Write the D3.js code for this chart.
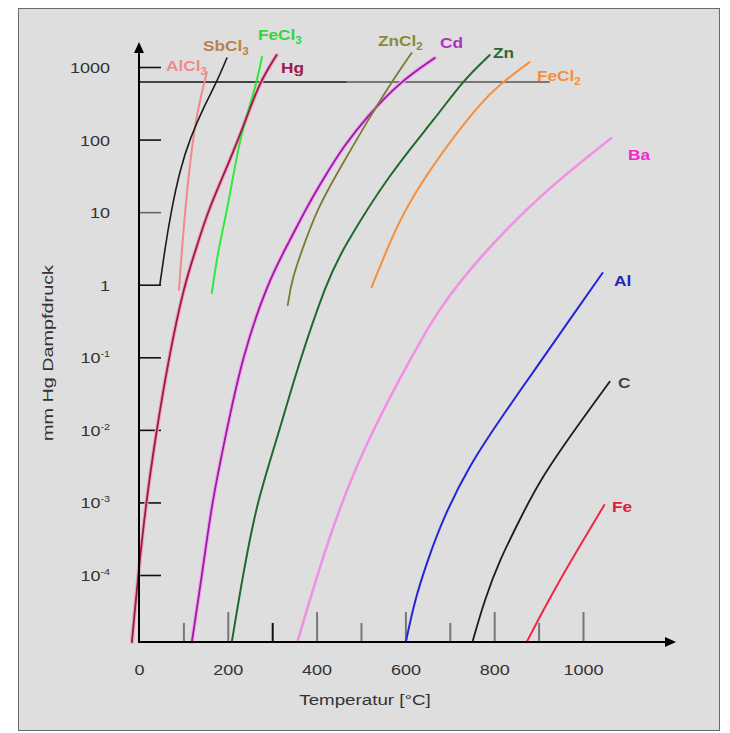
<!DOCTYPE html>
<html>
<head>
<meta charset="utf-8">
<script src="https://cdn.jsdelivr.net/npm/d3@7"></script>
<style>
  body { margin: 0; background: #ffffff; }
  text { font-family: "Liberation Sans", Arial, sans-serif; }
</style>
</head>
<body>
<script>
// vapour pressure curves, [temperature in °C, pressure in mm Hg]
var alCl3 = [[90, 0.85], [103, 10], [121, 105], [137, 350], [153, 850]];
var sbCl3 = [[47, 1.0], [58, 3], [72, 10], [92, 38], [115, 105], [148, 300], [175, 620], [198, 1330]];
var feCl3 = [[164, 0.77], [178, 3], [198, 10], [227, 105], [250, 300], [265, 620], [277, 1370]];
var hg = [[-16, 1.19e-5], [-2, 1e-4], [16, 1e-3], [36, 7.2e-3], [67, 0.1], [103, 1.06], [128, 3.0],
          [153, 9.7], [205, 52], [243, 205], [272, 620], [310, 1460]];
var cd = [[119, 1.19e-5], [142, 1e-4], [164, 9.8e-4], [193, 7.2e-3], [232, 0.1], [290, 1.09], [340, 4.1],
          [378, 11.8], [423, 34.6], [463, 84], [513, 205], [587, 621], [666, 1330]];
var znCl2 = [[335, 0.52], [344, 1.16], [367, 3.0], [403, 11.8], [457, 44.7], [520, 205], [569, 621], [614, 1560]];
var zn = [[209, 1.19e-5], [234, 1e-4], [265, 9.8e-4], [310, 7.2e-3], [362, 0.092], [423, 1.09], [457, 3.0],
          [565, 34.6], [670, 205], [727, 621], [790, 1460]];
var feCl2 = [[524, 0.93], [558, 3.0], [587, 7.8], [648, 34.6], [767, 319], [819, 621], [880, 1170]];
var ba = [[358, 1.27e-5], [418, 2.2e-4], [475, 2.0e-3], [538, 1.37e-2], [610, 0.092], [677, 0.49],
          [767, 2.4], [902, 17.2], [1064, 105]];
var al = [[601, 1.19e-5], [621, 4.5e-5], [650, 1.6e-4], [688, 6.7e-4], [745, 3.3e-3], [812, 1.37e-2],
          [902, 0.083], [970, 0.33], [1044, 1.45]];
var carbon = [[751, 1.19e-5], [778, 4.5e-5], [812, 1.6e-4], [857, 5.7e-4], [902, 2.0e-3], [981, 1.0e-2], [1060, 0.046]];
var fe = [[873, 1.19e-5], [913, 3.5e-5], [958, 1.1e-4], [1003, 3.2e-4], [1048, 9.2e-4]];

// axis ticks
var xTicks = [0, 100, 200, 300, 400, 500, 600, 700, 800, 900, 1000];
var yTicks = [1e-4, 1e-3, 1e-2, 1e-1, 1, 10, 100, 1000];
var yTickLabels = [["10", "-4"], ["10", "-3"], ["10", "-2"], ["10", "-1"], ["1", ""], ["10", ""], ["100", ""], ["1000", ""]];

// the boiling line (ambient pressure) and where it turns grey
var ambientP = 620;
var ambientSplitT = 468, ambientEndT = 925;

var w = 730, h = 733;
var sx = 1.2; // the source text is stretched sideways

var svg = d3.select("body").append("svg")
    .attr("width", w)
    .attr("height", h);

// panel
svg.append("rect")
    .attr("x", 18.5).attr("y", 8.5)
    .attr("width", 701).attr("height", 722)
    .attr("fill", "#dedede")
    .attr("stroke", "#6a6a6a")
    .attr("stroke-width", 1);

var x = d3.scaleLinear().domain([0, 1000]).range([139, 583]);
var y = d3.scaleLog().domain([1e-4, 1000]).range([575, 67]);
var axisY = 642;   // x axis sits a bit under 10^-4
var yTop = 42;     // tip of the y arrow

// x axis ticks (upward, long for every 200)
var xAxis = d3.axisBottom(x)
    .tickValues(xTicks)
    .tickSize(0)
    .tickPadding(0)
    .tickFormat(function(d){ return d % 200 === 0 ? d : ""; });

var gx = svg.append("g")
    .attr("transform", "translate(0," + axisY + ")")
    .call(xAxis);
gx.select(".domain").remove();
gx.selectAll(".tick line")
    .attr("y2", function(d){ return d === 0 ? 0 : (d % 200 === 0 ? -30 : -19); })
    .attr("stroke", function(d){ return d === 300 ? "#111" : "#777"; })
    .attr("stroke-width", 2);
gx.selectAll(".tick text")
    .attr("y", 0)
    .attr("dy", 0)
    .attr("transform", "translate(0,33) scale(" + sx + ",1)")
    .attr("fill", "#333")
    .style("font-size", "15px");

// y axis ticks (inward)
var yAxis = d3.axisLeft(y)
    .tickValues(yTicks)
    .tickSize(-22)
    .tickPadding(0)
    .tickFormat("");

var gy = svg.append("g")
    .attr("transform", "translate(139,0)")
    .call(yAxis);
gy.select(".domain").remove();
gy.selectAll(".tick line")
    .attr("stroke", function(d){ return d === 10 ? "#666" : "#111"; })
    .attr("stroke-width", 1.6);

gy.selectAll(".tick").each(function(d, i){
    var lab = yTickLabels[i];
    var t = d3.select(this).select("text")
        .attr("x", 0).attr("dy", 0)
        .attr("transform", "translate(-29,5.5) scale(" + sx + ",1)")
        .attr("text-anchor", "end")
        .attr("fill", "#333")
        .style("font-size", "15px")
        .text(lab[0]);
    if (lab[1]) {
        t.append("tspan")
            .attr("dy", -6)
            .style("font-size", "9px")
            .text(lab[1]);
    }
});

// ambient pressure line
svg.append("line")
    .attr("x1", x(0)).attr("x2", x(ambientSplitT))
    .attr("y1", y(ambientP)).attr("y2", y(ambientP))
    .attr("stroke", "#111").attr("stroke-width", 1.6);
svg.append("line")
    .attr("x1", x(ambientSplitT)).attr("x2", x(ambientEndT))
    .attr("y1", y(ambientP)).attr("y2", y(ambientP))
    .attr("stroke", "#555").attr("stroke-width", 1.4);

// curves - basis smoothing, the read-off points are a little noisy
var line = d3.line()
    .x(function(d){ return x(d[0]); })
    .y(function(d){ return y(d[1]); })
    .curve(d3.curveBasis);

var curves = [
    { data: ba, color: "#f290e6", width: 2.6 },
    { data: hg, color: "#eea6bc", width: 4 },
    { data: cd, color: "#f0a6ee", width: 4 },
    { data: alCl3, color: "#f28a8c", width: 2 },
    { data: sbCl3, color: "#1c1c1c", width: 1.6 },
    { data: feCl3, color: "#2fe83a", width: 2 },
    { data: hg, color: "#9a1a4c", width: 1.8 },
    { data: cd, color: "#9c1aa4", width: 1.8 },
    { data: znCl2, color: "#7a7a30", width: 1.8 },
    { data: zn, color: "#1d6a2c", width: 2 },
    { data: feCl2, color: "#f39040", width: 2 },
    { data: al, color: "#2424d8", width: 2 },
    { data: carbon, color: "#1c1c1c", width: 1.8 },
    { data: fe, color: "#ee2846", width: 2 }
];

svg.selectAll(".curve")
    .data(curves)
    .enter()
    .append("path")
    .attr("class", "curve")
    .attr("d", function(d){ return line(d.data); })
    .attr("fill", "none")
    .attr("stroke", function(d){ return d.color; })
    .attr("stroke-width", function(d){ return d.width; })
    .attr("stroke-linecap", "round");

// axis lines with arrows
svg.append("line")
    .attr("x1", 139).attr("x2", 139)
    .attr("y1", axisY + 1).attr("y2", yTop + 6)
    .attr("stroke", "#000").attr("stroke-width", 2);
svg.append("path")
    .attr("d", "M139," + yTop + " L134," + (yTop + 11) + " L144," + (yTop + 11) + " Z")
    .attr("fill", "#000");
svg.append("line")
    .attr("x1", 138).attr("x2", 668)
    .attr("y1", axisY).attr("y2", axisY)
    .attr("stroke", "#000").attr("stroke-width", 2);
svg.append("path")
    .attr("d", "M676," + axisY + " L665," + (axisY - 5) + " L665," + (axisY + 5) + " Z")
    .attr("fill", "#000");

// axis titles
svg.append("text")
    .attr("transform", "translate(365,705) scale(1.25,1)")
    .attr("text-anchor", "middle")
    .attr("fill", "#333")
    .style("font-size", "15px")
    .text("Temperatur [°C]");

svg.append("text")
    .attr("transform", "translate(53,353) rotate(-90) scale(1.32,1)")
    .attr("text-anchor", "middle")
    .attr("fill", "#333")
    .style("font-size", "15px")
    .text("mm Hg Dampfdruck");

// curve labels
var labels = [
    { name: "AlCl", sub: "3", x: 166, y: 71, color: "#f08a8a" },
    { name: "SbCl", sub: "3", x: 203, y: 51, color: "#b8814a" },
    { name: "FeCl", sub: "3", x: 258, y: 40, color: "#2ed83a" },
    { name: "Hg", sub: "", x: 281, y: 73, color: "#a01850" },
    { name: "ZnCl", sub: "2", x: 378, y: 46, color: "#8a8a3a" },
    { name: "Cd", sub: "", x: 440, y: 48, color: "#b030c0" },
    { name: "Zn", sub: "", x: 493, y: 58, color: "#2a6a30" },
    { name: "FeCl", sub: "2", x: 537, y: 81, color: "#f29040" },
    { name: "Ba", sub: "", x: 628, y: 160, color: "#f028d0" },
    { name: "Al", sub: "", x: 614, y: 286, color: "#2222bb" },
    { name: "C", sub: "", x: 618, y: 388, color: "#444444" },
    { name: "Fe", sub: "", x: 612, y: 512, color: "#e02040" }
];

labels.forEach(function(l){
    var t = svg.append("text")
        .attr("transform", "translate(" + l.x + "," + l.y + ") scale(1.15,1)")
        .attr("fill", l.color)
        .style("font-size", "15px")
        .style("font-weight", "bold")
        .text(l.name);
    if (l.sub) {
        t.append("tspan")
            .attr("dy", 4)
            .style("font-size", "10px")
            .text(l.sub);
    }
});
</script>
</body>
</html>
